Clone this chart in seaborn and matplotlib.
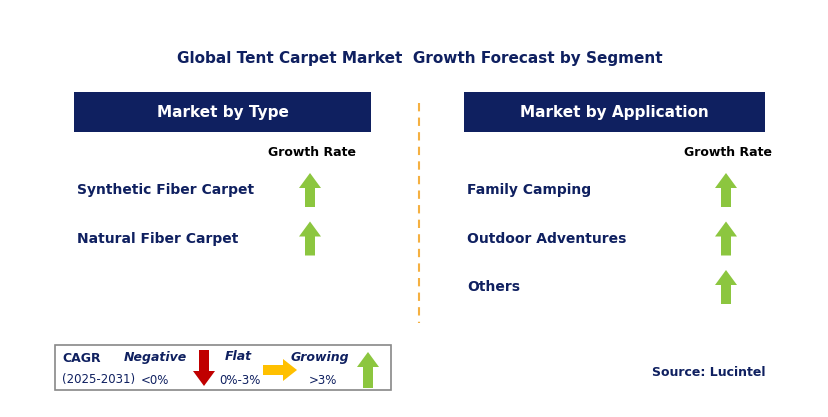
import matplotlib
matplotlib.use("Agg")
import matplotlib.pyplot as plt
from matplotlib.patches import Rectangle, Polygon
import seaborn as sns

sns.set_theme(style="white")
plt.rcParams["font.family"] = "DejaVu Sans"

title = "Global Tent Carpet Market  Growth Forecast by Segment"
type_header = "Market by Type"
type_items = ["Synthetic Fiber Carpet", "Natural Fiber Carpet"]
type_trend = ["up", "up"]
app_header = "Market by Application"
app_items = ["Family Camping", "Outdoor Adventures", "Others"]
app_trend = ["up", "up", "up"]
source = "Source: Lucintel"

NAVY = "#0F2060"
GREEN = "#8CC63F"
RED = "#C00000"
ORANGE = "#FFC000"

fig = plt.figure(figsize=(8.29, 4.17), dpi=100)
ax = fig.add_axes([0, 0, 1, 1])
ax.set_xlim(0, 829); ax.set_ylim(417, 0); ax.axis("off")

def arrow(x, y, d, color, L=34, sw=10, hw=22, hl=15):
    # x,y centre
    if d == "up":
        top, bot = y - L/2, y + L/2
        pts = [(x, top), (x+hw/2, top+hl), (x+sw/2, top+hl), (x+sw/2, bot),
               (x-sw/2, bot), (x-sw/2, top+hl), (x-hw/2, top+hl)]
    elif d == "down":
        top, bot = y - L/2, y + L/2
        pts = [(x, bot), (x+hw/2, bot-hl), (x+sw/2, bot-hl), (x+sw/2, top),
               (x-sw/2, top), (x-sw/2, bot-hl), (x-hw/2, bot-hl)]
    else:
        l, r = x - L/2, x + L/2
        pts = [(r, y), (r-hl, y-hw/2), (r-hl, y-sw/2), (l, y-sw/2),
               (l, y+sw/2), (r-hl, y+sw/2), (r-hl, y+hw/2)]
    ax.add_patch(Polygon(pts, closed=True, color=color, lw=0))

ax.text(420, 58, title, ha="center", va="center", fontsize=11, fontweight="bold", color=NAVY)

def panel(x0, x1, header, items, trends, arrow_x):
    ax.add_patch(Rectangle((x0, 92), x1-x0, 40, color=NAVY, lw=0))
    ax.text((x0+x1)/2, 112, header, ha="center", va="center", fontsize=11, color="white", fontweight="bold")
    ax.text(arrow_x+2, 152, "Growth Rate", ha="center", va="center", fontsize=9, fontweight="bold", color="black")
    for i, (it, tr) in enumerate(zip(items, trends)):
        y = 190 + 48.5*i
        ax.text(x0+3, y, it, ha="left", va="center", fontsize=10, fontweight="bold", color=NAVY)
        arrow(arrow_x, y, tr, GREEN)

panel(74, 371, type_header, type_items, type_trend, 310)
panel(464, 765, app_header, app_items, app_trend, 726)

ax.plot([419, 419], [103, 323], ls=(0, (4, 3)), color="#F5B041", lw=1.5)

# legend
ax.add_patch(Rectangle((55, 345), 336, 45, fill=False, ec="#888888", lw=1.2))
ax.text(62, 358, "CAGR", fontsize=9, fontweight="bold", color=NAVY, va="center")
ax.text(62, 379, "(2025-2031)", fontsize=8.5, color=NAVY, va="center")
ax.text(155, 357, "Negative", fontsize=9, fontweight="bold", style="italic", color=NAVY, ha="center", va="center")
ax.text(155, 380, "<0%", fontsize=8.5, color=NAVY, ha="center", va="center")
arrow(204, 368, "down", RED, L=36, sw=10, hw=22, hl=15)
ax.text(238, 357, "Flat", fontsize=9, fontweight="bold", style="italic", color=NAVY, ha="center", va="center")
ax.text(240, 380, "0%-3%", fontsize=8.5, color=NAVY, ha="center", va="center")
arrow(280, 370, "right", ORANGE, L=34, sw=10, hw=22, hl=14)
ax.text(320, 357, "Growing", fontsize=9, fontweight="bold", style="italic", color=NAVY, ha="center", va="center")
ax.text(323, 380, ">3%", fontsize=8.5, color=NAVY, ha="center", va="center")
arrow(368, 370, "up", GREEN, L=36, sw=10, hw=22, hl=15)

ax.text(652, 373, source, fontsize=9, fontweight="bold", color=NAVY, va="center")

fig.savefig("out.png", dpi=100)
